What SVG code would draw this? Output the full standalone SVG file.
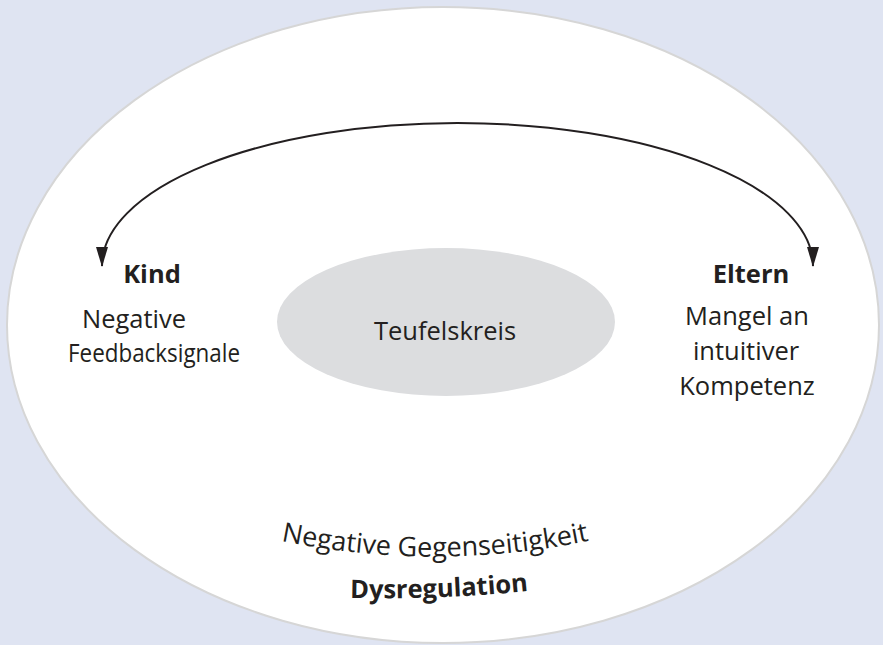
<svg xmlns="http://www.w3.org/2000/svg" width="883" height="645" viewBox="0 0 883 645">
<style>
.t{font-family:"Open Sans","Noto Sans","Liberation Sans",sans-serif;font-size:25.5px;fill:#231f20;text-anchor:middle}
.b{font-weight:bold}
.c{fill:none;stroke:#231f20;stroke-width:2}
</style>
<defs>
<marker id="ah" viewBox="0 0 20 12" refX="19" refY="6" markerWidth="20" markerHeight="12" markerUnits="userSpaceOnUse" orient="auto-start-reverse">
<path d="M0,0 L20,6 L0,12 Z" fill="#231f20"/>
</marker>
<path id="p1" d="M 281 541 Q 445 574 606 537"/>
<path id="p2" d="M 350 598 Q 445 600 538 590"/>
</defs>
<rect width="883" height="645" fill="#dfe4f2"/>
<g id="outer">
<ellipse cx="443" cy="325" rx="436" ry="318" fill="#ffffff" stroke="#d6d6d6" stroke-width="2"/>
</g>
<g id="teufelskreis">
<ellipse cx="446" cy="322" rx="169" ry="74" fill="#dcdddf"/>
<text class="t" x="445" y="340">Teufelskreis</text>
</g>
<g id="connectors">
<path class="c" d="M 102 266 A 355.5 143 0 0 1 813 266" marker-start="url(#ah)" marker-end="url(#ah)"/>
</g>
<g id="kind">
<text class="t b" x="152" y="283">Kind</text>
<text class="t" x="134" y="328">Negative</text>
<text class="t" x="154" y="362" textLength="172" lengthAdjust="spacingAndGlyphs">Feedbacksignale</text>
</g>
<g id="eltern">
<text class="t b" x="751" y="283">Eltern</text>
<text class="t" x="747" y="325">Mangel an</text>
<text class="t" x="746" y="360">intuitiver</text>
<text class="t" x="747" y="395">Kompetenz</text>
</g>
<g id="bottom">
<text class="t" style="text-anchor:start;font-size:27px"><textPath href="#p1">Negative Gegenseitigkeit</textPath></text>
<text class="t b" style="text-anchor:start"><textPath href="#p2">Dysregulation</textPath></text>
</g>
</svg>
